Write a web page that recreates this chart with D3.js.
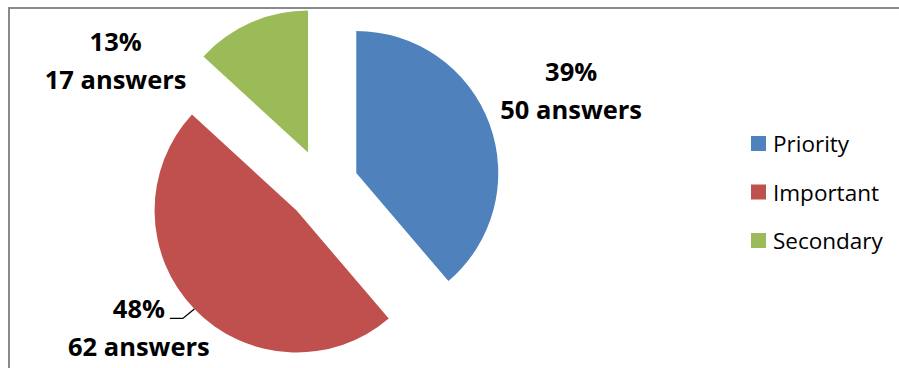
<!DOCTYPE html>
<html>
<head>
<meta charset="utf-8">
<script src="https://cdn.jsdelivr.net/npm/d3@7/dist/d3.min.js"></script>
<style>
  html, body { margin: 0; padding: 0; background: #fff; }
  svg { display: block; }
</style>
</head>
<body>
<svg id="chart" width="899" height="368"></svg>
<script>
// Survey answers per priority class
const categories = ["Priority", "Important", "Secondary"];
const answers = [50, 62, 17];
const colors = ["#4F81BD", "#C0504D", "#9BBB59"];

const W = 899, H = 368;
const svg = d3.select("#chart");

// Chart-area frame (continues past the right and bottom edges)
svg.append("rect")
  .attr("x", 9).attr("y", 8)
  .attr("width", W + 20).attr("height", H + 20)
  .attr("fill", "none")
  .attr("stroke", "#8A8A8A")
  .attr("stroke-width", 2);

const cx = 322.5, cy = 185.5, radius = 142, explode = 36;
const total = d3.sum(answers);

const pie = d3.pie().sort(null).value(d => d.value).startAngle(0);
const arcs = pie(categories.map((c, i) => ({ name: c, value: answers[i], color: colors[i] })));
const arc = d3.arc().innerRadius(0).outerRadius(radius);

const dir = a => [Math.sin(a), -Math.cos(a)];
const mid = d => (d.startAngle + d.endAngle) / 2;

const g = svg.append("g").attr("transform", `translate(${cx},${cy})`);

g.selectAll("path.slice")
  .data(arcs)
  .join("path")
  .attr("class", "slice")
  .attr("d", arc)
  .attr("fill", d => d.data.color)
  .attr("transform", d => {
    const [ux, uy] = dir(mid(d));
    return `translate(${ux * explode},${uy * explode})`;
  });

// Data labels: label centre given as angle (deg, clockwise from 12) and distance from pie centre
const labelPlace = [
  { angle: 71, dist: 263 },
  { angle: 230.5, dist: 238 },
  { angle: 299.2, dist: 237 }
];
const halfGap = 19;
const fmtPct = v => Math.round(v / total * 100) + "%";

arcs.forEach((d, i) => {
  const p = labelPlace[i];
  const a = p.angle * Math.PI / 180;
  const [ux, uy] = dir(a);
  const lx = ux * p.dist, ly = uy * p.dist;
  const t = g.append("text")
    .attr("text-anchor", "middle")
    .attr("font-family", "'Open Sans', sans-serif")
    .attr("font-weight", "bold")
    .attr("font-size", 25.5)
    .attr("fill", "#000");
  t.append("tspan").attr("x", lx).attr("y", ly - halfGap).text(fmtPct(d.data.value));
  t.append("tspan").attr("x", lx).attr("y", ly + halfGap).text(d.data.value + " answers");

  // leader line for the large slice label
  if (i === 1) {
    const [mx, my] = dir(mid(d));
    const ex = mx * (explode + radius), ey = my * (explode + radius);
    const sx = lx + 31, sy = ly - halfGap + 0.5;
    g.append("path")
      .attr("d", `M${sx},${sy} L${sx + 13},${sy} L${ex},${ey}`)
      .attr("fill", "none")
      .attr("stroke", "#000")
      .attr("stroke-width", 1.3);
  }
});

// Legend
const legend = svg.append("g").attr("transform", "translate(751,136)");
const item = legend.selectAll("g")
  .data(categories)
  .join("g")
  .attr("transform", (d, i) => `translate(0,${i * 48.5})`);
item.append("rect")
  .attr("width", 15).attr("height", 15)
  .attr("fill", (d, i) => colors[i]);
item.append("text")
  .attr("x", 22).attr("y", 16)
  .attr("font-family", "'Open Sans', sans-serif")
  .attr("font-size", 22.5)
  .attr("fill", "#000")
  .text(d => d);
</script>
</body>
</html>
